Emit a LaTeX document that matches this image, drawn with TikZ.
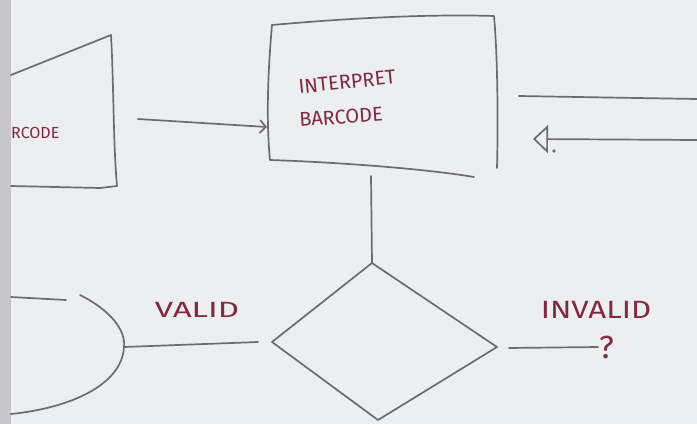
\documentclass[tikz,border=0pt]{standalone}
\usepackage{fontspec}
\setsansfont{Fira Sans}
\usetikzlibrary{arrows.meta,calc,positioning}
\definecolor{boardbg}{RGB}{237,238,240}
\definecolor{boardedge}{RGB}{200,200,204}
\definecolor{markgray}{RGB}{108,108,112}
\definecolor{markred}{RGB}{130,40,66}

\tikzset{
  sketch/.style={markgray,line width=1.7pt,line cap=round,line join=round},
  scrawl/.style={markred,font=\sffamily,inner sep=0pt}
}

\begin{document}
\begin{tikzpicture}[x=1pt,y=-1pt,>=Stealth]
  \useasboundingbox (0,0) rectangle (697,424);
  \fill[boardbg] (0,0) rectangle (697,424);
  \fill[boardedge] (0,0) rectangle (11,424);

  % left box, cut off by the page edge
  \coordinate (scan-tl) at (11,75);
  \coordinate (scan-tr) at (111,35);
  \coordinate (scan-br) at (117,186);
  \coordinate (scan-bl) at (11,186);
  \coordinate (scan-e) at (138,119);
  \draw[sketch] (scan-tl) -- (scan-tr) .. controls (114,90) and (113,140) .. (scan-br) -- (100,188) -- (scan-bl);
  \node[scrawl,font=\sffamily\fontsize{16}{17}\selectfont,anchor=west] (scan) at (11,133) {RCODE};

  % interpret box
  \coordinate (interp-tl) at (272,25);
  \coordinate (interp-tr) at (494,16);
  \coordinate (interp-br) at (474,177);
  \coordinate (interp-bl) at (270,160);
  \coordinate (interp-w) at (267,127);
  \coordinate (interp-s) at (371,176);
  \draw[sketch] (interp-tl) .. controls (350,18) and (430,14) .. (interp-tr)
    .. controls (498,60) and (498,130) .. (497,168);
  \draw[sketch] (interp-tl) .. controls (268,70) and (266,120) .. (interp-bl)
    .. controls (330,162) and (420,168) .. (interp-br);
  \node[scrawl,font=\sffamily\fontsize{20}{22}\selectfont,rotate=6] (interp) at (347,82) {INTERPRET};
  \node[scrawl,font=\sffamily\fontsize{20}{22}\selectfont,rotate=4] (interp2) at (341,117) {BARCODE};

  \draw[sketch,-{Straight Barb[length=6pt,width=13pt]}] (scan-e) -- (interp-w);

  % lines leaving on the right
  \coordinate (out-w) at (519,96);
  \coordinate (out-e) at (697,99);
  \coordinate (back-e) at (697,140);
  \coordinate (back-w) at (533,139);
  \draw[sketch] (out-w) -- (out-e);
  \draw[sketch,->,>={Triangle[open,length=15pt,width=28pt,line width=1.7pt]}] (back-e) -- (back-w);
  \fill[markgray] (554,151) circle (1.8);

  % decision
  \coordinate (dec-n) at (372,263);
  \coordinate (dec-w) at (272,342);
  \coordinate (dec-s) at (378,420);
  \coordinate (dec-e) at (497,347);
  \draw[sketch] (dec-n) -- (dec-e) -- (dec-s) -- (dec-w) -- cycle;
  \draw[sketch] (interp-s) -- (dec-n);

  % valid branch
  \coordinate (end-top) at (11,297);
  \coordinate (end-e) at (124,347);
  \coordinate (end-bot) at (11,414);
  \draw[sketch] (end-top) -- (66,300);
  \draw[sketch] (80,295) .. controls (110,310) and (126,330) .. (end-e)
    .. controls (122,385) and (70,408) .. (end-bot);
  \draw[sketch] (end-e) -- ($(dec-w)+(-14,0)$);
  \node[scrawl,font=\sffamily\fontsize{22}{24}\selectfont,xscale=1.5] (valid) at (197,310) {VALID};

  % invalid branch
  \coordinate (inv-e) at (598,347);
  \draw[sketch] ($(dec-e)+(12,1)$) -- (inv-e);
  \node[scrawl,font=\sffamily\fontsize{25}{27}\selectfont,xscale=1.25] (invalid) at (596,310) {INVALID};
  \node[scrawl,font=\sffamily\fontsize{32}{34}\selectfont,right=1pt of inv-e] (ask) {?};
\end{tikzpicture}
\end{document}
